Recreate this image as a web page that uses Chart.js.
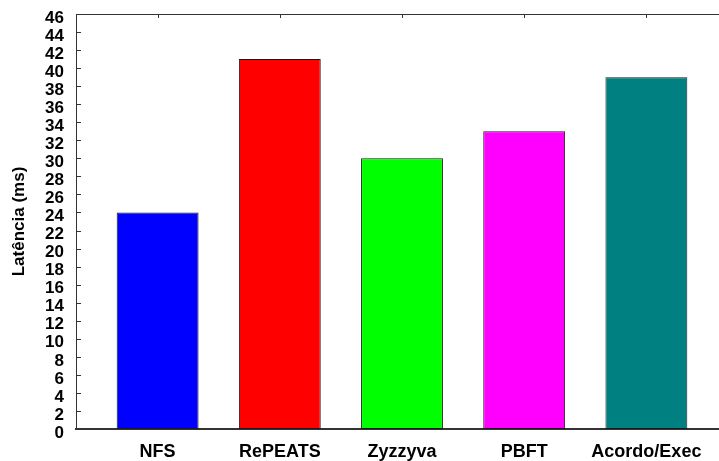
<!DOCTYPE html>
<html>
<head>
<meta charset="utf-8">
<script src="https://cdn.jsdelivr.net/npm/chart.js@4.4.0/dist/chart.umd.min.js"></script>
<style>
  html, body { margin: 0; padding: 0; background: #fff; overflow: hidden; }
  #wrap { width: 740px; height: 461px; }
</style>
</head>
<body>
<div id="wrap"><canvas id="latencyChart" width="740" height="461"></canvas></div>
<script>
// Data
const categories = ["NFS", "RePEATS", "Zyzzyva", "PBFT", "Acordo/Exec"];
const latencies = [24, 41, 30, 33, 39];
const barColors = ["#0000ff", "#ff0000", "#00ff00", "#ff00ff", "#008080"];
const yTicks = [0, 2, 4, 6, 8, 10, 12, 14, 16, 18, 20, 22, 24, 26, 28, 30, 32, 34, 36, 38, 40, 42, 44, 46];

Chart.defaults.font.family = "'Liberation Sans', Arial, sans-serif";
Chart.defaults.color = "#000";

// top border + short inward tick marks (left axis and top edge)
const frameTicks = {
  id: "frameTicks",
  afterDraw(chart) {
    const { ctx, chartArea: a, scales: { x, y } } = chart;
    ctx.save();
    ctx.strokeStyle = "#333";
    ctx.lineWidth = 1;
    ctx.beginPath();
    ctx.moveTo(a.left, a.top + 0.5);
    ctx.lineTo(a.right, a.top + 0.5);
    yTicks.forEach(v => {
      const py = Math.round(y.getPixelForValue(v)) + 0.5;
      ctx.moveTo(a.left, py);
      ctx.lineTo(a.left + 5, py);
    });
    categories.forEach((c, i) => {
      const px = Math.round(x.getPixelForValue(i)) + 0.5;
      ctx.moveTo(px, a.top);
      ctx.lineTo(px, a.top + 4);
    });
    ctx.stroke();
    ctx.restore();
  }
};

const ctx = document.getElementById("latencyChart").getContext("2d");
new Chart(ctx, {
  type: "bar",
  data: {
    datasets: [{
      data: categories.map((c, i) => ({ x: i, y: latencies[i] })),
      backgroundColor: barColors,
      borderColor: "#1a1a1a",
      borderWidth: 1,
      borderSkipped: false,
      barPercentage: 0.67,
      categoryPercentage: 1
    }]
  },
  options: {
    responsive: false,
    animation: false,
    layout: { padding: { top: 14, right: 12, left: 0, bottom: 0 } },
    plugins: {
      legend: { display: false },
      tooltip: { enabled: false }
    },
    scales: {
      x: {
        type: "linear",
        min: -0.668,
        max: 4.668,
        offset: false,
        grid: { display: false, drawTicks: false },
        border: { color: "#333", width: 2 },
        afterBuildTicks: scale => {
          scale.ticks = categories.map((c, i) => ({ value: i }));
        },
        afterFit: scale => {
          scale.height = 32;
          scale.paddingLeft = 0;
          scale.paddingRight = 0;
        },
        ticks: {
          autoSkip: false,
          maxRotation: 0,
          padding: 12,
          font: { size: 18, weight: "bold" },
          callback: v => categories[v] ?? ""
        }
      },
      y: {
        min: 0,
        max: 46,
        afterFit: scale => {
          scale.width = 76;
          scale.paddingTop = 0;
          scale.paddingBottom = 0;
        },
        grid: { display: false, drawTicks: false },
        border: { color: "#333", width: 1 },
        ticks: {
          stepSize: 2,
          autoSkip: false,
          padding: 12,
          labelOffset: 4,
          font: { size: 17, weight: "bold" }
        },
        title: {
          display: true,
          text: "Latência (ms)",
          font: { size: 17, weight: "bold" },
          padding: { top: 9, bottom: 0 }
        }
      }
    }
  },
  plugins: [frameTicks]
});
</script>
</body>
</html>
